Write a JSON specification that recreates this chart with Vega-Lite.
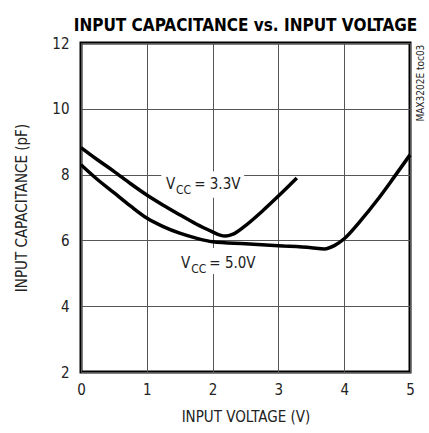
{
  "$schema": "https://vega.github.io/schema/vega-lite/v6.json",
  "width": 329,
  "height": 329,
  "autosize": {"type": "none"},
  "padding": {"left": 81, "top": 43, "right": 19, "bottom": 61},
  "background": "white",
  "config": {
    "font": "DejaVu Sans Condensed",
    "view": {"stroke": "black", "strokeWidth": 3},
    "axis": {
      "domain": false,
      "ticks": false,
      "grid": true,
      "gridColor": "#555",
      "gridWidth": 1,
      "labelFont": "DejaVu Sans Condensed",
      "labelFontSize": 15,
      "labelColor": "#222",
      "titleFont": "DejaVu Sans Condensed",
      "titleFontSize": 15,
      "titleFontWeight": "normal",
      "titleColor": "#222"
    }
  },
  "title": {
    "text": "INPUT CAPACITANCE vs. INPUT VOLTAGE",
    "font": "DejaVu Sans Condensed",
    "fontSize": 17,
    "fontWeight": "bold",
    "color": "black",
    "anchor": "middle",
    "frame": "group",
    "offset": 1
  },
  "datasets": {
    "curves": [
      {"series": "3.3V", "v": 0.0, "c": 8.82},
      {"series": "3.3V", "v": 0.25, "c": 8.45},
      {"series": "3.3V", "v": 0.5, "c": 8.1},
      {"series": "3.3V", "v": 0.75, "c": 7.73},
      {"series": "3.3V", "v": 1.0, "c": 7.38},
      {"series": "3.3V", "v": 1.25, "c": 7.07},
      {"series": "3.3V", "v": 1.5, "c": 6.78},
      {"series": "3.3V", "v": 1.75, "c": 6.5},
      {"series": "3.3V", "v": 2.0, "c": 6.26},
      {"series": "3.3V", "v": 2.1, "c": 6.17},
      {"series": "3.3V", "v": 2.2, "c": 6.13},
      {"series": "3.3V", "v": 2.3, "c": 6.18},
      {"series": "3.3V", "v": 2.5, "c": 6.45},
      {"series": "3.3V", "v": 2.75, "c": 6.88},
      {"series": "3.3V", "v": 3.0, "c": 7.35},
      {"series": "3.3V", "v": 3.28, "c": 7.9},
      {"series": "5.0V", "v": 0.0, "c": 8.3},
      {"series": "5.0V", "v": 0.25, "c": 7.85},
      {"series": "5.0V", "v": 0.5, "c": 7.45},
      {"series": "5.0V", "v": 0.75, "c": 7.05},
      {"series": "5.0V", "v": 1.0, "c": 6.68},
      {"series": "5.0V", "v": 1.25, "c": 6.42},
      {"series": "5.0V", "v": 1.5, "c": 6.22},
      {"series": "5.0V", "v": 1.75, "c": 6.07},
      {"series": "5.0V", "v": 2.0, "c": 5.96},
      {"series": "5.0V", "v": 2.5, "c": 5.9},
      {"series": "5.0V", "v": 3.0, "c": 5.84},
      {"series": "5.0V", "v": 3.5, "c": 5.78},
      {"series": "5.0V", "v": 3.7, "c": 5.74},
      {"series": "5.0V", "v": 3.85, "c": 5.84},
      {"series": "5.0V", "v": 4.0, "c": 6.05},
      {"series": "5.0V", "v": 4.25, "c": 6.6},
      {"series": "5.0V", "v": 4.5, "c": 7.22},
      {"series": "5.0V", "v": 4.75, "c": 7.9},
      {"series": "5.0V", "v": 5.0, "c": 8.6}
    ],
    "boxes": [
      {"x1": 1.22, "x2": 2.48, "y1": 7.3, "y2": 8.1},
      {"x1": 1.46, "x2": 2.63, "y1": 4.98, "y2": 5.77}
    ],
    "labels": [
      {"v": 1.29, "c": 7.55, "t": "V", "size": 15},
      {"v": 1.445, "c": 7.4, "t": "CC", "size": 12},
      {"v": 1.72, "c": 7.55, "t": "= 3.3V", "size": 15},
      {"v": 1.52, "c": 5.15, "t": "V", "size": 15},
      {"v": 1.675, "c": 5.0, "t": "CC", "size": 12},
      {"v": 1.95, "c": 5.15, "t": "= 5.0V", "size": 15}
    ],
    "side": [
      {"v": 5.16, "c": 11.95, "t": "MAX3202E toc03"}
    ]
  },
  "layer": [
    {
      "data": {"name": "boxes"},
      "mark": {"type": "rect", "fill": "white", "stroke": null},
      "encoding": {
        "x": {"field": "x1", "type": "quantitative", "scale": {"domain": [0, 5]}},
        "x2": {"field": "x2"},
        "y": {"field": "y1", "type": "quantitative", "scale": {"domain": [2, 12]}},
        "y2": {"field": "y2"}
      }
    },
    {
      "data": {"name": "curves"},
      "mark": {"type": "line", "color": "black", "strokeWidth": 3.5, "interpolate": "monotone"},
      "encoding": {
        "x": {
          "field": "v", "type": "quantitative",
          "scale": {"domain": [0, 5], "nice": false},
          "axis": {"values": [0, 1, 2, 3, 4, 5], "format": "d", "title": "INPUT VOLTAGE (V)", "labelPadding": 10, "titlePadding": 12, "labelFlush": false}
        },
        "y": {
          "field": "c", "type": "quantitative",
          "scale": {"domain": [2, 12], "nice": false},
          "axis": {"values": [2, 4, 6, 8, 10, 12], "format": "d", "title": "INPUT CAPACITANCE (pF)", "labelPadding": 12, "titlePadding": 22, "labelFlush": false}
        },
        "detail": {"field": "series"}
      }
    },
    {
      "data": {"name": "labels"},
      "mark": {"type": "text", "align": "left", "baseline": "alphabetic", "color": "#222"},
      "encoding": {
        "x": {"field": "v", "type": "quantitative"},
        "y": {"field": "c", "type": "quantitative"},
        "text": {"field": "t"},
        "size": {"field": "size", "type": "quantitative", "scale": null}
      }
    },
    {
      "data": {"name": "side"},
      "mark": {"type": "text", "align": "right", "baseline": "middle", "angle": 270, "fontSize": 10, "color": "#222"},
      "encoding": {
        "x": {"field": "v", "type": "quantitative"},
        "y": {"field": "c", "type": "quantitative"},
        "text": {"field": "t"}
      }
    }
  ]
}
